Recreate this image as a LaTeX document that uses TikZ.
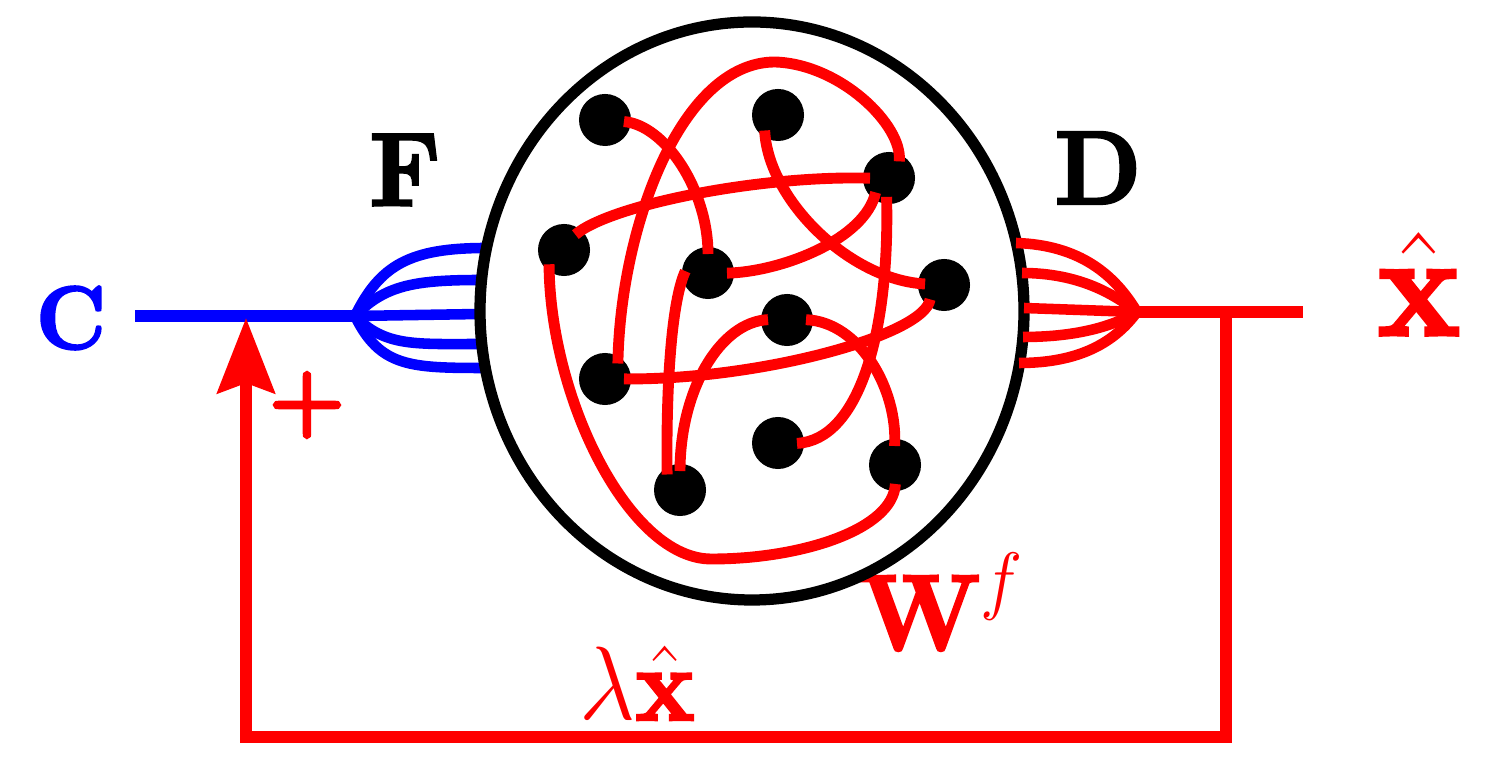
\RequirePackage{fix-cm}
\documentclass[tikz,border=0pt]{standalone}
\usepackage[no-math]{fontspec}
\usepackage{graphicx}
\usetikzlibrary{arrows.meta}
\newfontfamily\plusfont[FakeBold=5]{Latin Modern Roman}
\newfontfamily\heavy[UprightFont=*-bold,Extension=.otf,FakeBold=2.5]{lmroman10}
\newcommand{\vstretch}[1]{\scalebox{1}[1.06]{#1}}
\begin{document}
\begin{tikzpicture}[x=0.01cm,y=-0.01cm,
  dot/.style={circle,fill=black,inner sep=0pt,outer sep=0pt,minimum size=0.52cm},
  wire/.style={draw=red,line width=3.1pt,shorten <=-2pt,shorten >=-2pt},
  bfan/.style={draw=blue,line width=3.0pt},
  bline/.style={draw=blue,line width=3.3pt},
  rfan/.style={draw=red,line width=3.0pt},
  rline/.style={draw=red,line width=3.3pt},
  feed/.style={draw=red,line width=3.3pt,line join=miter,
    -{Stealth[length=21.3pt,width=16.2pt,inset=2.8pt]}},
  ring/.style={draw=black,line width=3.2pt},
  lbl/.style={inner sep=0pt,outer sep=0pt}]
\fill[white] (0,0) rectangle (1489,768);
\useasboundingbox (0,0) rectangle (1489,768);

% coordinates
\coordinate (cin) at (135,316);
\coordinate (J) at (355,316);
\coordinate (A) at (246,318);
\coordinate (L1) at (486,248);
\coordinate (L2) at (481,280);
\coordinate (L3) at (480,314);
\coordinate (L4) at (481,344);
\coordinate (L5) at (485,368);
\coordinate (R) at (1137,312);
\coordinate (R1) at (1016,243);
\coordinate (R2) at (1022,273);
\coordinate (R3) at (1024,308);
\coordinate (R4) at (1023,337);
\coordinate (R5) at (1019,363);
\coordinate (B) at (1226,312);
\coordinate (xout) at (1303,312);
\coordinate (fbR) at (1226,737);
\coordinate (fbL) at (246,737);

% labels
\node[lbl,text=blue] (C) at (71,318) {\fontsize{24}{29}\selectfont\vstretch{\heavy C}};
\node[lbl] (F) at (405,170) {\fontsize{28}{34}\selectfont\vstretch{\heavy F}};
\node[lbl] (D) at (1098,168) {\fontsize{28}{34}\selectfont\vstretch{\heavy D}};
\node[lbl,text=red,anchor=base] (xhat) at (1419,335) {\fontsize{39}{47}\selectfont\vstretch{$\hat{\hbox{\heavy x}}$}};
\node[lbl,text=red,anchor=base west] (W) at (859,650) {\fontsize{29}{35}\selectfont\vstretch{$\hbox{\heavy W}^{f}$}};
\node[lbl,text=red,anchor=base west] (lam) at (579,720) {\fontsize{28}{34}\selectfont\vstretch{$\lambda\hat{\hbox{\heavy x}}$}};
\node[lbl,text=red] (plus) at (307,405) {\plusfont\fontsize{28.5}{34}\selectfont +};

% input line and left fan
\draw[bline] (cin) -- (J);
\draw[bfan] (J) .. controls (380,265) and (410,248) .. (L1);
\draw[bfan] (J) .. controls (385,285) and (415,280) .. (L2);
\draw[bfan] (J) -- (L3);
\draw[bfan] (J) .. controls (385,347) and (415,344) .. (L4);
\draw[bfan] (J) .. controls (380,367) and (410,368) .. (L5);

% feedback
\draw[feed] (B) -- (fbR) -- (fbL) -- (A);

% reservoir
\draw[ring] (752,311) ellipse [x radius=272, y radius=289];

% output fan
\draw[rfan] (R1) .. controls (1080,245) and (1115,275) .. (R);
\draw[rfan] (R2) .. controls (1080,273) and (1115,295) .. (R);
\draw[rfan] (R3) -- (R);
\draw[rfan] (R4) .. controls (1080,337) and (1115,325) .. (R);
\draw[rfan] (R5) .. controls (1080,363) and (1115,342) .. (R);
\draw[rline] (R) -- (xout);

% neurons
\node[dot] (n1) at (605,120) {};
\node[dot] (n2) at (778,115) {};
\node[dot] (n3) at (889,178) {};
\node[dot] (n4) at (564,250) {};
\node[dot] (n5) at (708,273) {};
\node[dot] (n6) at (944,285) {};
\node[dot] (n7) at (787,320) {};
\node[dot] (n8) at (605,379) {};
\node[dot] (n9) at (778,443) {};
\node[dot] (n10) at (895,465) {};
\node[dot] (n11) at (680,490) {};

% recurrent connections
\draw[wire] (n1) .. controls (665,125) and (708,190) .. (n5.90);
\draw[wire] (n2.240) .. controls (768,200) and (850,280) .. (n6);
\draw[wire] (n8.60) .. controls (620,230) and (680,62) .. (775,62)
   .. controls (840,64) and (903,125) .. (n3.65);
\draw[wire] (n4.50) .. controls (610,205) and (760,175) .. (n3.180);
\draw[wire] (n3.235) .. controls (865,240) and (780,272) .. (n5.0);
\draw[wire] (n3.265) .. controls (890,330) and (860,440) .. (n9.0);
\draw[wire] (n4.235) .. controls (550,400) and (630,560) .. (712,559)
   .. controls (800,559) and (893,530) .. (n10.270);
\draw[wire] (n5.190) .. controls (672,300) and (666,380) .. (n11.120);
\draw[wire] (n7.180) .. controls (720,322) and (680,390) .. (n11.90);
\draw[wire] (n7.0) .. controls (860,322) and (898,390) .. (n10.90);
\draw[wire] (n8.0) .. controls (760,380) and (925,335) .. (n6.235);
\end{tikzpicture}
\end{document}
